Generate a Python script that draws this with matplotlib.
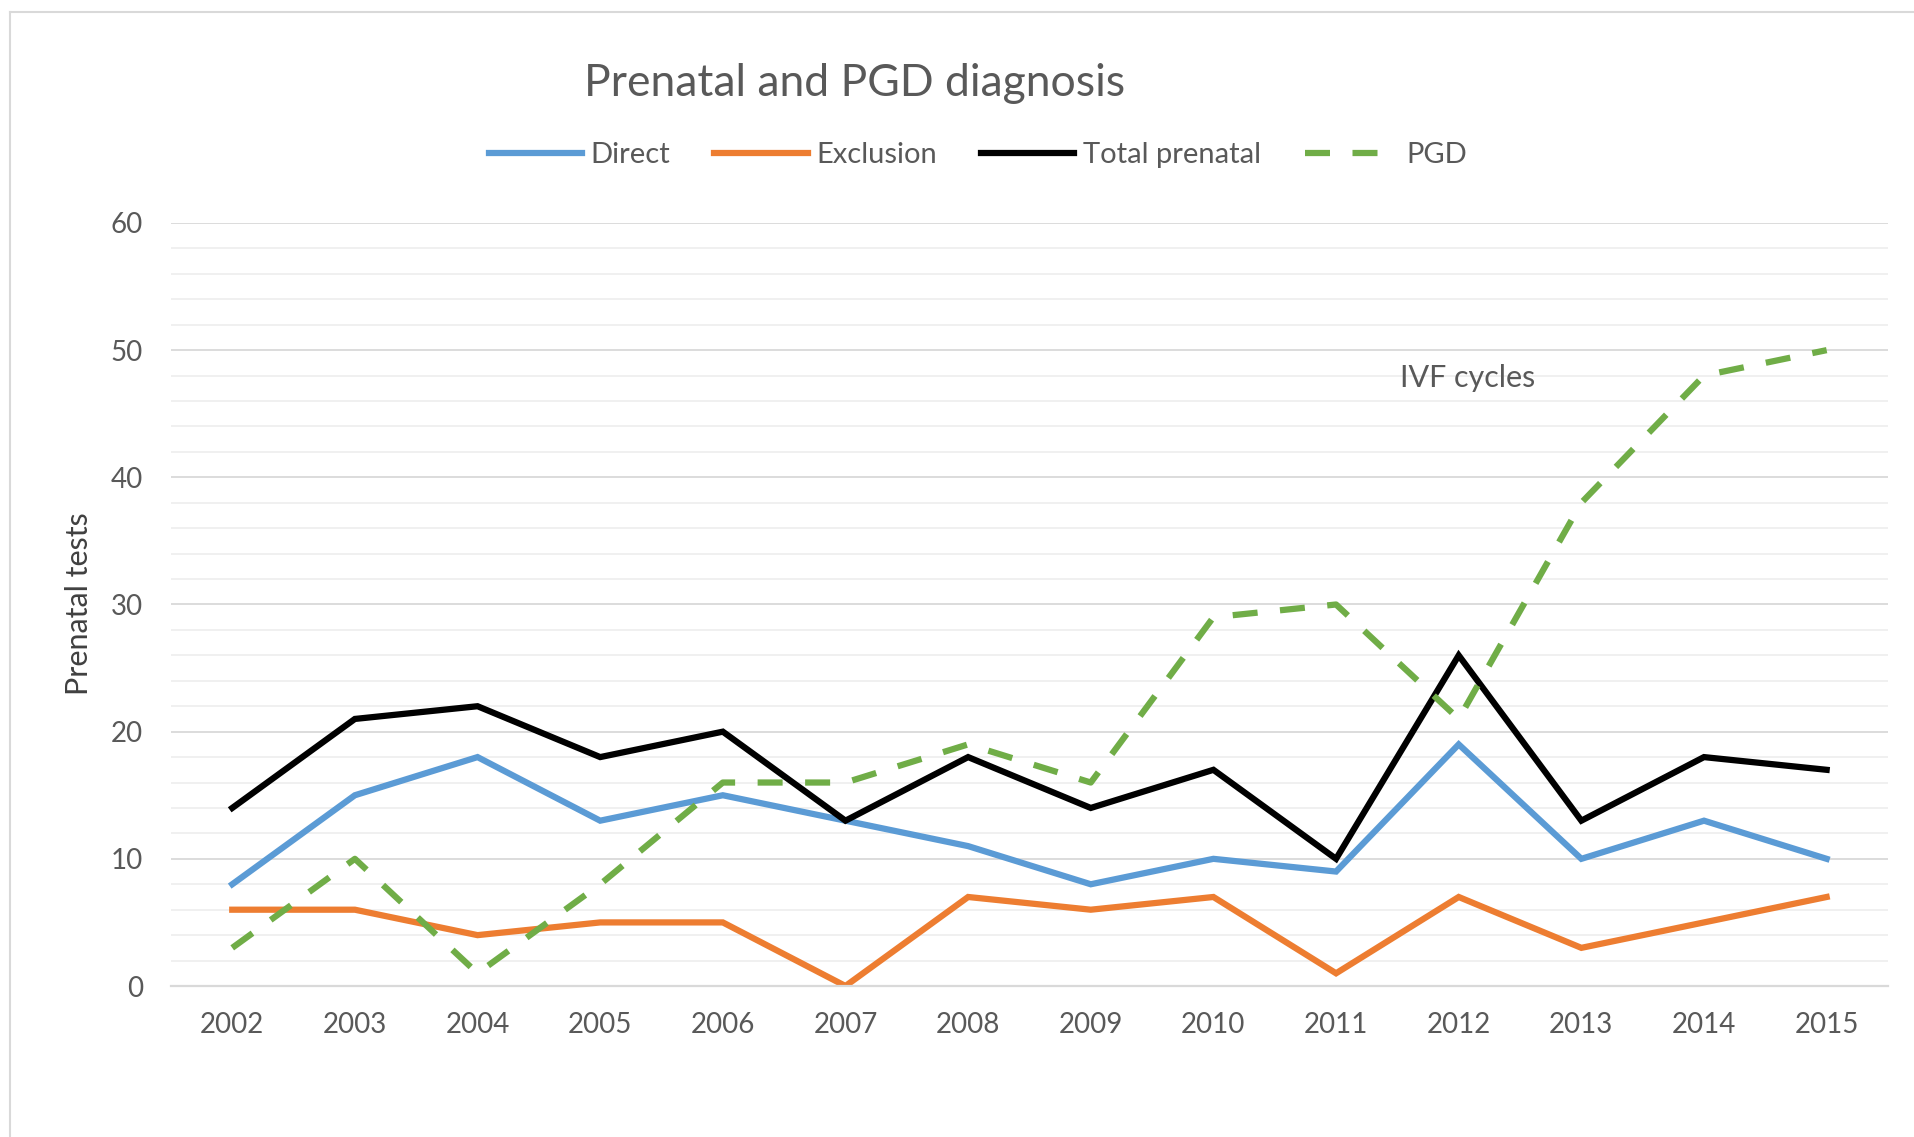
import matplotlib.pyplot as plt
import matplotlib.lines as mlines
from matplotlib.ticker import MultipleLocator
import numpy as np

plt.rcParams['font.family'] = ['Lato', 'DejaVu Sans']

years = ['2002', '2003', '2004', '2005', '2006', '2007', '2008',
         '2009', '2010', '2011', '2012', '2013', '2014', '2015']
direct = [8, 15, 18, 13, 15, 13, 11, 8, 10, 9, 19, 10, 13, 10]
exclusion = [6, 6, 4, 5, 5, 0, 7, 6, 7, 1, 7, 3, 5, 7]
total_prenatal = [14, 21, 22, 18, 20, 13, 18, 14, 17, 10, 26, 13, 18, 17]
pgd = [3, 10, 1, 8, 16, 16, 19, 16, 29, 30, 21, 38, 48, 50]

textColor = '#595959'
fontSize = 21

fig = plt.figure(figsize=(19.14, 11.37), dpi=100)
ax1 = fig.add_axes([0.0893, 0.1328, 0.8971, 0.6711])

x = np.arange(len(years))
ax1.plot(x, direct, color='#5B9BD5', lw=4.5, label='Direct', solid_joinstyle='miter')
ax1.plot(x, exclusion, color='#ED7D31', lw=4.5, label='Exclusion', solid_joinstyle='miter')
ax1.plot(x, total_prenatal, color='black', lw=4.5, label='Total prenatal', solid_joinstyle='miter')
ax1.plot(x, pgd, color='#70AD47', lw=4.5, dashes=(4, 3.6), label='PGD')

ax1.set_xlim(-0.5, len(years) - 0.5)
ax1.set_ylim(0, 60)
ax1.set_xticks(x)
ax1.set_xticklabels(years)
ax1.yaxis.set_major_locator(MultipleLocator(10))
ax1.yaxis.set_minor_locator(MultipleLocator(2))

ax1.yaxis.grid(True, which='major', color='#D9D9D9', linewidth=1.3)
ax1.yaxis.grid(True, which='minor', color='#EFEFEF', linewidth=1.3)
ax1.set_axisbelow(True)

for s in ['top', 'right', 'left']:
    ax1.spines[s].set_visible(False)
ax1.spines['bottom'].set_color('#D9D9D9')
ax1.spines['bottom'].set_linewidth(1.6)

ax1.tick_params(axis='both', which='both', length=0, labelsize=fontSize - 1, labelcolor=textColor)
ax1.tick_params(axis='x', pad=19)
ax1.tick_params(axis='y', pad=20)

ax1.text(10.07, 47.8, 'IVF cycles', ha='center', va='center', fontsize=fontSize + 1, color=textColor)

fig.text(0.4467, 0.927, 'Prenatal and PGD diagnosis', ha='center', va='center',
         fontsize=32, color=textColor)
fig.text(0.0413, 0.4688, 'Prenatal tests', ha='center', va='center', rotation=90,
         fontsize=fontSize + 1, color='#404040')

handles, labels = ax1.get_legend_handles_labels()
leg = fig.legend(handles, labels, loc='center', bbox_to_anchor=(0.511, 0.8637), ncol=4,
                 frameon=False, fontsize=fontSize, handlelength=3.2, handletextpad=0.3,
                 columnspacing=1.5)
for t in leg.get_texts():
    t.set_color(textColor)

# outer chart border (only left and top edges visible)
fig.add_artist(mlines.Line2D([10 / 1914, 10 / 1914], [0, 1 - 12 / 1137], color='#D9D9D9', lw=1.5))
fig.add_artist(mlines.Line2D([10 / 1914, 1], [1 - 12 / 1137, 1 - 12 / 1137], color='#D9D9D9', lw=1.5))

plt.savefig('out.png', dpi=100)
